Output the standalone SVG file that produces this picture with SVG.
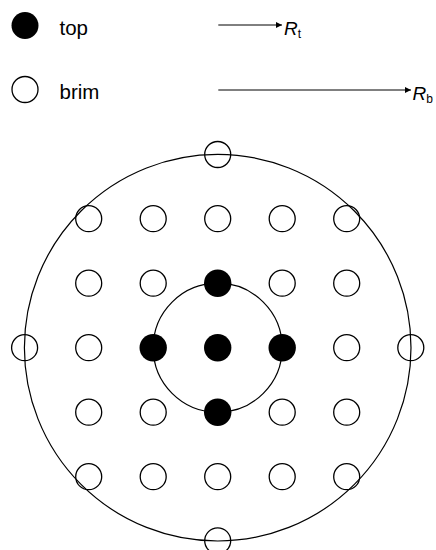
<svg xmlns="http://www.w3.org/2000/svg" width="436" height="550" viewBox="0 0 436 550">
<style>
.o{fill:none;stroke:#000;stroke-width:1.3}
.f{fill:#000;stroke:none}
.ring{fill:none;stroke:#000;stroke-width:1.2}
.lbl{font-family:"Liberation Sans",Arial,sans-serif;font-size:20.5px;fill:#000}
.r{font-family:"Liberation Sans",Arial,sans-serif;font-size:19px;font-style:italic;fill:#000}
.sub{font-style:normal;font-size:12px}
.ln{stroke:#000;stroke-width:1;fill:none}
</style>
<defs>
<marker id="ah" markerUnits="userSpaceOnUse" markerWidth="7" markerHeight="6" refX="6" refY="3" orient="auto">
<path d="M0,0 L6,3 L0,6 Z" fill="#000"/>
</marker>
</defs>
<rect width="436" height="550" fill="#fff"/>
<g id="legend-top">
<circle class="f" cx="25" cy="25.5" r="13.5"/>
<text class="lbl" x="59.5" y="34.5">top</text>
</g>
<g id="legend-brim">
<circle class="o" cx="25" cy="89.5" r="13"/>
<text class="lbl" x="59.5" y="98.5">brim</text>
</g>
<g id="connectors">
<line class="ln" x1="218.3" y1="25" x2="282" y2="25" marker-end="url(#ah)"/>
<line class="ln" x1="218.3" y1="90" x2="411" y2="90" marker-end="url(#ah)"/>
</g>
<text id="label-Rt" class="r" x="284" y="34.5">R<tspan class="sub" dy="3.5">t</tspan></text>
<text id="label-Rb" class="r" x="412.5" y="99.5">R<tspan class="sub" dy="3.5">b</tspan></text>
<g id="outer-circle"><circle class="ring" cx="217.7" cy="347.7" r="193.3"/></g>
<g id="inner-circle"><circle class="ring" cx="217.7" cy="347.7" r="64.5"/></g>
<g id="edge-top"><circle class="o" cx="217.7" cy="154.5" r="13"/></g>
<g id="edge-bottom"><circle class="o" cx="217.7" cy="540.8" r="13"/></g>
<g id="edge-left"><circle class="o" cx="24.6" cy="347.7" r="13"/></g>
<g id="edge-right"><circle class="o" cx="410.8" cy="347.7" r="13"/></g>
<g id="r1c1"><circle class="o" cx="88.7" cy="218.7" r="13"/></g>
<g id="r1c2"><circle class="o" cx="153.2" cy="218.7" r="13"/></g>
<g id="r1c3"><circle class="o" cx="217.7" cy="218.7" r="13"/></g>
<g id="r1c4"><circle class="o" cx="282.2" cy="218.7" r="13"/></g>
<g id="r1c5"><circle class="o" cx="346.7" cy="218.7" r="13"/></g>
<g id="r2c1"><circle class="o" cx="88.7" cy="283.2" r="13"/></g>
<g id="r2c2"><circle class="o" cx="153.2" cy="283.2" r="13"/></g>
<g id="r2c3"><circle class="f" cx="217.7" cy="283.2" r="13.7"/></g>
<g id="r2c4"><circle class="o" cx="282.2" cy="283.2" r="13"/></g>
<g id="r2c5"><circle class="o" cx="346.7" cy="283.2" r="13"/></g>
<g id="r3c1"><circle class="o" cx="88.7" cy="347.7" r="13"/></g>
<g id="r3c2"><circle class="f" cx="153.2" cy="347.7" r="13.7"/></g>
<g id="r3c3"><circle class="f" cx="217.7" cy="347.7" r="13.7"/></g>
<g id="r3c4"><circle class="f" cx="282.2" cy="347.7" r="13.7"/></g>
<g id="r3c5"><circle class="o" cx="346.7" cy="347.7" r="13"/></g>
<g id="r4c1"><circle class="o" cx="88.7" cy="412.2" r="13"/></g>
<g id="r4c2"><circle class="o" cx="153.2" cy="412.2" r="13"/></g>
<g id="r4c3"><circle class="f" cx="217.7" cy="412.2" r="13.7"/></g>
<g id="r4c4"><circle class="o" cx="282.2" cy="412.2" r="13"/></g>
<g id="r4c5"><circle class="o" cx="346.7" cy="412.2" r="13"/></g>
<g id="r5c1"><circle class="o" cx="88.7" cy="476.7" r="13"/></g>
<g id="r5c2"><circle class="o" cx="153.2" cy="476.7" r="13"/></g>
<g id="r5c3"><circle class="o" cx="217.7" cy="476.7" r="13"/></g>
<g id="r5c4"><circle class="o" cx="282.2" cy="476.7" r="13"/></g>
<g id="r5c5"><circle class="o" cx="346.7" cy="476.7" r="13"/></g>
</svg>
